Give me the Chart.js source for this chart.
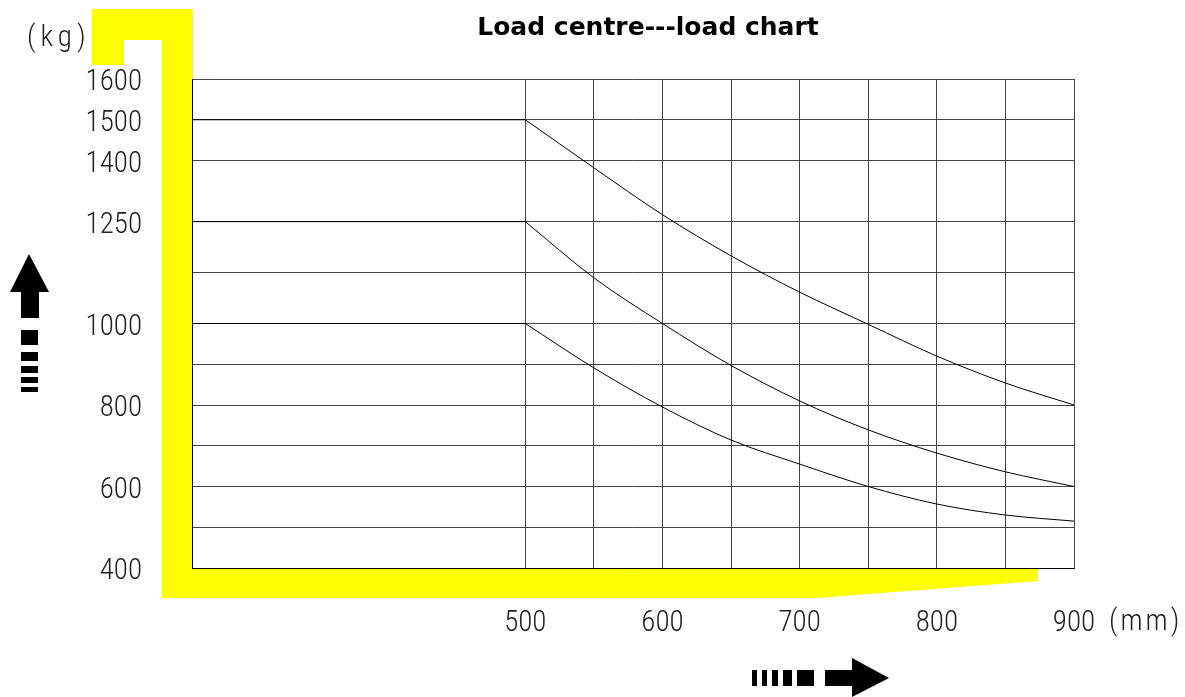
<!DOCTYPE html>
<html>
<head>
<meta charset="utf-8">
<title>Load centre---load chart</title>
<script src="https://cdn.jsdelivr.net/npm/chart.js@4.4.1/dist/chart.umd.min.js"></script>
<style>
  html, body { margin: 0; padding: 0; background: #fff; }
</style>
</head>
<body>
<canvas id="loadChart" width="1185" height="697"></canvas>
<script>
// load centre (mm) read at every vertical grid line
const centres = [500, 550, 600, 650, 700, 750, 800, 850, 900];
// allowed load (kg) for each of the three capacity curves
const load1500 = [1500, 1382, 1267, 1166, 1077, 998, 920, 854, 800];
const load1250 = [1250, 1112, 1000, 897, 810, 739, 682, 636, 600];
const load1000 = [1000, 891, 795, 714, 655, 600, 557, 530, 515];

// left end of the x axis (the part before 500 is not to scale)
const X_START = 257;
const xGrid = [500, 550, 600, 650, 700, 750, 800, 850, 900];
const xLabels = [500, 600, 700, 800, 900];
const yGrid = [400, 500, 600, 700, 800, 900, 1000, 1125, 1250, 1400, 1500, 1600];
const yLabels = [400, 600, 800, 1000, 1250, 1400, 1500, 1600];

const thinFont = '"Roboto Condensed", "Liberation Sans Narrow", sans-serif';

function curvePoints(values) {
    return centres.map((c, i) => ({ x: c, y: values[i] }));
}

// flat part of a curve, from the left edge up to 500 mm
function flatPoints(values) {
    return [{ x: X_START, y: values[0] }, { x: centres[0], y: values[0] }];
}

function lineSet(points, smooth) {
    return {
        data: points,
        borderColor: '#000',
        borderWidth: 1,
        pointRadius: 0,
        fill: false,
        tension: 0,
        cubicInterpolationMode: smooth ? 'monotone' : 'default'
    };
}

// yellow frame, arrows and the extra texts
const decor = {
    id: 'decor',
    beforeDraw(chart) {
        const ctx = chart.ctx;
        const a = chart.chartArea;
        ctx.save();
        ctx.fillStyle = '#fff';
        ctx.fillRect(0, 0, chart.width, chart.height);

        ctx.fillStyle = '#ffff00';
        ctx.beginPath();
        ctx.moveTo(a.left - 100, 9);
        ctx.lineTo(a.left + 1, 9);
        ctx.lineTo(a.left + 1, a.bottom);
        ctx.lineTo(a.right - 36, a.bottom);
        ctx.lineTo(a.right - 36, a.bottom + 13);
        ctx.lineTo(a.right - 257, a.bottom + 30);
        ctx.lineTo(a.left - 30, a.bottom + 30);
        ctx.lineTo(a.left - 30, 40);
        ctx.lineTo(a.left - 68, 40);
        ctx.lineTo(a.left - 68, 65);
        ctx.lineTo(a.left - 100, 65);
        ctx.closePath();
        ctx.fill();
        ctx.restore();
    },
    afterDraw(chart) {
        const ctx = chart.ctx;
        ctx.save();
        ctx.fillStyle = '#000';

        ctx.font = 'bold 25px "DejaVu Sans", sans-serif';
        ctx.textAlign = 'center';
        ctx.textBaseline = 'alphabetic';
        ctx.fillText('Load centre---load chart', 648, 35);

        ctx.font = '300 29px ' + thinFont;
        ctx.textAlign = 'left';
        ctx.fillStyle = '#222';
        ctx.letterSpacing = '5px';
        ctx.fillText('(kg)', 27, 46);
        ctx.letterSpacing = '3px';
        ctx.fillText('(mm)', 1109, 630);
        ctx.letterSpacing = '0px';

        // up arrow on the left
        ctx.fillStyle = '#000';
        ctx.beginPath();
        ctx.moveTo(29, 254);
        ctx.lineTo(49, 292);
        ctx.lineTo(10, 292);
        ctx.closePath();
        ctx.fill();
        ctx.fillRect(21, 292, 18, 26);
        [[330, 345], [352, 361], [366, 373], [377, 383], [387, 392]].forEach(d => {
            ctx.fillRect(21, d[0], 17, d[1] - d[0]);
        });

        // right arrow at the bottom
        [[752, 757], [762, 767], [772, 778], [783, 792], [797, 814]].forEach(d => {
            ctx.fillRect(d[0], 670, d[1] - d[0], 16);
        });
        ctx.fillRect(825, 670, 28, 16);
        ctx.beginPath();
        ctx.moveTo(852, 658);
        ctx.lineTo(889, 678);
        ctx.lineTo(852, 697);
        ctx.closePath();
        ctx.fill();
        ctx.restore();
    }
};

new Chart(document.getElementById('loadChart'), {
    type: 'line',
    data: {
        datasets: [
            lineSet(flatPoints(load1500), false),
            lineSet(curvePoints(load1500), true),
            lineSet(flatPoints(load1250), false),
            lineSet(curvePoints(load1250), true),
            lineSet(flatPoints(load1000), false),
            lineSet(curvePoints(load1000), true)
        ]
    },
    options: {
        responsive: false,
        animation: false,
        layout: { padding: { left: 42, top: 79, right: 111, bottom: 0 } },
        plugins: {
            legend: { display: false },
            tooltip: { enabled: false },
            title: { display: false }
        },
        scales: {
            x: {
                type: 'linear',
                min: X_START,
                max: 900,
                afterBuildTicks: (s) => { s.ticks = xGrid.map(v => ({ value: v })); },
                afterFit: (s) => { s.height = 129; },
                grid: { color: '#444', lineWidth: 1, drawTicks: false },
                border: { display: true, color: '#000', width: 1 },
                ticks: {
                    autoSkip: false,
                    maxRotation: 0,
                    padding: 38,
                    color: '#222',
                    font: { family: thinFont, size: 29, weight: '300' },
                    callback: (v) => xLabels.includes(v) ? String(v) : ''
                }
            },
            y: {
                min: 400,
                max: 1600,
                afterBuildTicks: (s) => { s.ticks = yGrid.map(v => ({ value: v })); },
                afterFit: (s) => { s.width = 150; },
                grid: { color: '#444', lineWidth: 1, drawTicks: false },
                border: { display: true, color: '#000', width: 1 },
                ticks: {
                    autoSkip: false,
                    padding: 50,
                    labelOffset: 4,
                    color: '#222',
                    font: { family: thinFont, size: 29, weight: '300' },
                    callback: (v) => yLabels.includes(v) ? String(v) : ''
                }
            }
        }
    },
    plugins: [decor]
});
</script>
</body>
</html>
